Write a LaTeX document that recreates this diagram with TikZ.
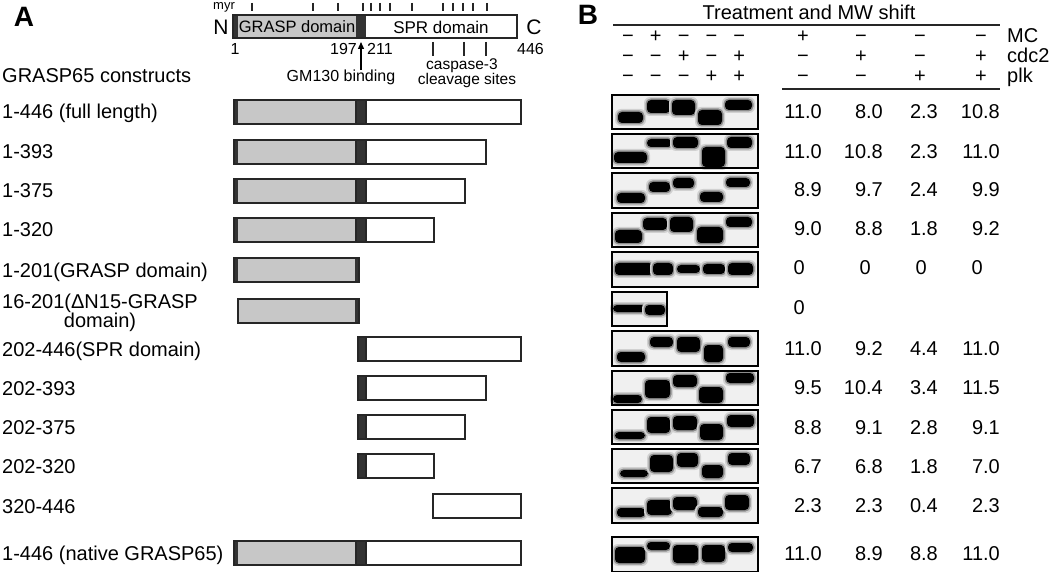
\documentclass[tikz,border=0pt]{standalone}
\usepackage{fontspec}
\setmainfont{Liberation Sans}
\usetikzlibrary{arrows.meta}
\newcommand\fullbar[2]{%
  \fill[gr] (238,#1-12) rectangle (356,#1+12);
  \fill[dk] (234,#1-12) rectangle (238,#1+12);
  \fill[dk] (356,#1-12) rectangle (366,#1+12);
  \draw[outl] (234,#1-12) rectangle (#2,#1+12);
  \draw[outl] (356,#1-12) -- (356,#1+12);
  \draw[outl] (366,#1-12) -- (366,#1+12);}
\newcommand\sprbar[2]{%
  \fill[dk] (358,#1-12) rectangle (366,#1+12);
  \draw[outl] (358,#1-12) rectangle (#2,#1+12);
  \draw[outl] (366,#1-12) -- (366,#1+12);}
\begin{document}
\begin{tikzpicture}[x=1pt,y=-1pt,
  lbl/.style={inner sep=0pt, anchor=base west, font=\fontsize{20}{20}\selectfont},
  num/.style={inner sep=0pt, anchor=base east, font=\fontsize{20}{20}\selectfont},
  pm/.style={inner sep=0pt, anchor=base, font=\fontsize{20}{20}\selectfont},
  sm/.style={inner sep=0pt, font=\fontsize{16}{16}\selectfont},
  cs/.style={inner sep=0pt, font=\fontsize{15.5}{15.5}\selectfont},
  posnum/.style={inner sep=0pt, font=\fontsize{16}{16}\selectfont},
  panel/.style={inner sep=0pt, anchor=base, font=\fontsize{28}{28}\selectfont\bfseries},
  outl/.style={draw=black!85, line width=1.3pt},
  gr/.style={fill=black!22},
  dk/.style={fill=black!80},
  tick/.style={draw=black!85, line width=1.2pt},
  blot/.style={fill=black!6},
  blotline/.style={draw=black, line width=1.6pt},
  band/.style={fill=black, rounded corners=4pt},
  halo/.style={fill=black!45, rounded corners=5pt},
  halo2/.style={fill=black!18, rounded corners=6pt},
  rule/.style={draw=black!85, line width=1.4pt},
]
\useasboundingbox[fill=white] (0,0) rectangle (1050,572);

% ---------------- Panel A -----------------
\node[panel] (A) at (24,27) {A};
\node[inner sep=0pt, anchor=base west, font=\fontsize{13}{13}\selectfont] (myr) at (213,10) {myr};
\foreach \x in {252,313,338,363,371,380,390,412,443,453,463,473,487}
  \draw[tick] (\x,3) -- (\x,11);
\fill[gr] (238,15) rectangle (356,38);
\fill[dk] (233,15) rectangle (238,38);
\fill[dk] (356,15) rectangle (366,38);
\draw[outl] (233,15) rectangle (517,38);
\node[inner sep=0pt, font=\fontsize{16.5}{16.5}\selectfont] (grasp) at (297,27) {GRASP domain};
\node[inner sep=0pt, font=\fontsize{17}{17}\selectfont] (spr) at (441,27) {SPR domain};
\node[inner sep=0pt, font=\fontsize{21}{21}\selectfont] (N) at (221,27) {N};
\node[inner sep=0pt, font=\fontsize{21}{21}\selectfont] (C) at (534,27) {C};
\node[posnum, anchor=base] (p1) at (235,55) {1};
\node[posnum, anchor=base east] (p197) at (357,55) {197};
\node[posnum, anchor=base west] (p211) at (367,55) {211};
\node[posnum, anchor=base west] (p446) at (517,55) {446};
\node[sm, anchor=base] (gm) at (341,82) {GM130 binding};
\coordinate (gmtip) at (361,42);
\draw[line width=1.3pt, -{Triangle[length=7pt,width=6pt]}] (gm.north -| gmtip) -- (gmtip);
\foreach \x in {433,464,486}
  \draw[tick] (\x,42) -- (\x,56);
\node[cs, anchor=base] (casp) at (462,70) {caspase-3};
\node[cs, anchor=base] (cleav) at (467,85) {cleavage sites};
\node[lbl] (hdr) at (2,83) {GRASP65 constructs};

\node[lbl] (l1) at (2,119) {1-446 (full length)};
\node[lbl] (l2) at (2,159) {1-393};
\node[lbl] (l3) at (2,198) {1-375};
\node[lbl] (l4) at (2,237) {1-320};
\node[lbl] (l5) at (2,277) {1-201(GRASP domain)};
\node[inner sep=0pt, anchor=west, align=center, font=\fontsize{20}{19}\selectfont] (l6) at (2,313) {16-201(ΔN15-GRASP\\domain)};
\node[lbl] (l7) at (2,356) {202-446(SPR domain)};
\node[lbl] (l8) at (2,395) {202-393};
\node[lbl] (l9) at (2,434) {202-375};
\node[lbl] (l10) at (2,473) {202-320};
\node[lbl] (l11) at (2,513) {320-446};
\node[lbl] (l12) at (2,560) {1-446 (native GRASP65)};

\fullbar{112}{521}
\fullbar{152}{486}
\fullbar{191}{465}
\fullbar{230}{434}
% 1-201
\fill[gr] (238,258) rectangle (355,282);
\fill[dk] (234,258) rectangle (238,282);
\fill[dk] (355,258) rectangle (359,282);
\draw[outl] (234,258) rectangle (359,282);
% 16-201
\fill[gr] (238,299) rectangle (355,323);
\fill[dk] (355,299) rectangle (359,323);
\draw[outl] (238,299) rectangle (359,323);
\sprbar{349}{521}
\sprbar{388}{486}
\sprbar{427}{465}
\sprbar{466}{434}
\draw[outl] (433,494) rectangle (521,518);
\fullbar{553}{521}

% ---------------- Panel B -----------------
\node[panel] (B) at (588,25) {B};
\node[pm] (treat) at (809,20) {Treatment and MW shift};
\draw[rule] (613,25) -- (1000,25);
\draw[rule] (782,89) -- (1000,89);
% +/- rows
\foreach \s [count=\i] in {−,+,−,−,−}
  \node[pm] (mcL\i) at ({628+27.8*(\i-1)},43) {\s};
\foreach \s [count=\i] in {−,−,+,−,+}
  \node[pm] (cdL\i) at ({628+27.8*(\i-1)},63) {\s};
\foreach \s [count=\i] in {−,−,−,+,+}
  \node[pm] (plL\i) at ({628+27.8*(\i-1)},83) {\s};
\foreach \s/\x [count=\i] in {+/803,−/861,−/920,−/981}
  \node[pm] (mcR\i) at (\x,43) {\s};
\foreach \s/\x [count=\i] in {−/803,+/861,−/920,+/981}
  \node[pm] (cdR\i) at (\x,63) {\s};
\foreach \s/\x [count=\i] in {−/803,−/861,+/920,+/981}
  \node[pm] (plR\i) at (\x,83) {\s};
\node[lbl] (MC) at (1007,43) {MC};
\node[lbl] (cdc) at (1007,63) {cdc2};
\node[lbl] (plk) at (1007,83) {plk};

% blots
\foreach \a/\b/\c/\d in {612/95/758/129, 612/134/758/168, 612/173/758/208, 612/213/758/247,
  612/252/758/287, 612/292/667/326, 612/331/758/366, 612/371/758/405, 612/410/758/444,
  612/449/758/483, 612/488/758/523, 612/537/758/572}
  \fill[blot] (\a,\b) rectangle (\c,\d);
\foreach \a/\b/\c/\d in {
  618/112/643/123, 647/100/670/113, 672/100/695/115, 698/110/722/125, 725/100/752/110,
  614/152/647/163, 647/139/672/147, 673/137/698/148, 702/147/725/167, 727/137/752/148,
  617/193/645/203, 649/182/670/192, 673/178/694/188, 700/192/723/202, 726/178/750/187,
  615/230/642/243, 643/218/667/230, 670/217/693/232, 697/227/723/243, 726/217/752/227,
  615/263/653/275, 653/263/673/275, 677/265/700/273, 703/264/725/274, 728/263/753/275,
  613/305/665/312, 645/305/665/315,
  617/352/645/362, 650/337/673/347, 677/337/700/352, 704/345/723/362, 728/337/750/347,
  613/395/642/403, 645/380/670/398, 673/375/697/387, 699/387/723/403, 726/373/754/383,
  615/432/645/439, 647/417/670/433, 673/416/697/430, 700/424/723/440, 727/415/754/427,
  620/470/648/477, 650/455/673/472, 677/453/698/467, 702/465/723/478, 728/453/750/465,
  617/508/645/517, 647/500/672/515, 673/497/697/510, 698/507/723/517, 725/495/749/510,
  615/547/645/563, 647/542/670/550, 673/545/698/563, 702/545/725/562, 728/543/753/552}
{ \fill[halo2] (\a-3,\b-3) rectangle (\c+3,\d+3);
  \fill[halo] (\a-1.5,\b-1.5) rectangle (\c+1.5,\d+1.5);
  \fill[band] (\a,\b) rectangle (\c,\d); }
\foreach \a/\b/\c/\d in {612/95/758/129, 612/134/758/168, 612/173/758/208, 612/213/758/247,
  612/252/758/287, 612/292/667/326, 612/331/758/366, 612/371/758/405, 612/410/758/444,
  612/449/758/483, 612/488/758/523, 612/537/758/572}
  \draw[blotline] (\a,\b) rectangle (\c,\d);

% MW shift numbers
\foreach \y/\p/\q/\r/\s [count=\i] in {
  112/11.0/8.0/2.3/10.8, 152/11.0/10.8/2.3/11.0, 190/8.9/9.7/2.4/9.9, 229/9.0/8.8/1.8/9.2,
  348/11.0/9.2/4.4/11.0, 387/9.5/10.4/3.4/11.5, 427/8.8/9.1/2.8/9.1, 466/6.7/6.8/1.8/7.0,
  505/2.3/2.3/0.4/2.3, 553/11.0/8.9/8.8/11.0}
{ \node[num] (va\i) at (822,\y+7) {\p};
  \node[num] (vb\i) at (883,\y+7) {\q};
  \node[num] (vc\i) at (938,\y+7) {\r};
  \node[num] (vd\i) at (1000,\y+7) {\s}; }
\node[num] (z1) at (805,275) {0};
\node[num] (z2) at (871,275) {0};
\node[num] (z3) at (927,275) {0};
\node[num] (z4) at (983,275) {0};
\node[num] (z5) at (805,315) {0};
\end{tikzpicture}
\end{document}
